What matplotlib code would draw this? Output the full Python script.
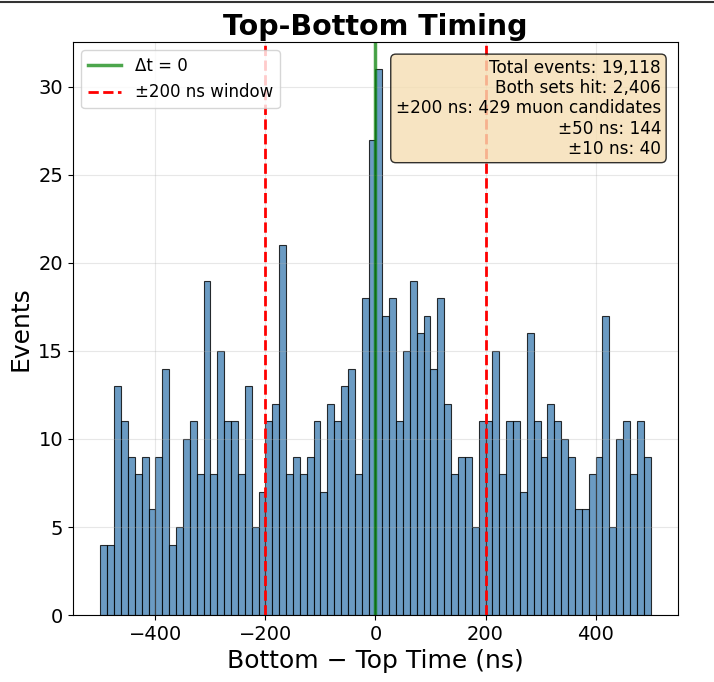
import numpy as np
import matplotlib
matplotlib.use("Agg")
import matplotlib.pyplot as plt
from matplotlib.lines import Line2D

# Histogram of Bottom - Top time differences (ns), 80 bins from -500 to 500
bin_lo = -500
bin_hi = 500
n_bins = 80
counts = [
    4, 4, 13, 11, 9, 8, 9, 6, 9, 14, 4, 5, 10, 11, 8, 19, 8, 15, 11, 11, 8,
    13, 5, 7, 11, 12, 21, 8, 9, 8, 9, 11, 7, 12, 11, 13, 14, 8, 18,
    27, 31,
    17, 18, 11, 15, 19, 16, 17, 14, 18, 12, 8, 9, 9, 5, 11, 11, 15, 8, 11, 11, 7,
    16, 11, 9, 12, 11, 10, 9, 6, 6, 8, 9, 17, 5, 10, 11, 8, 11, 9,
]
window = 200
stats_lines = [
    "Total events: 19,118",
    "Both sets hit: 2,406",
    "±200 ns: 429 muon candidates",
    "±50 ns: 144",
    "±10 ns: 40",
]

edges = np.linspace(bin_lo, bin_hi, n_bins + 1)
width = edges[1] - edges[0]

fig = plt.figure(figsize=(7.14, 6.82), dpi=100)
ax = fig.add_axes([0.1022, 0.0982, 0.8474, 0.8402])

ax.bar(edges[:-1], counts, width=width, align='edge', color='steelblue',
       edgecolor='black', linewidth=0.8, alpha=0.8)
ax.axvline(0, color='green', linewidth=2.5, alpha=0.7, label='Δt = 0')
ax.axvline(-window, color='red', linestyle='--', linewidth=2,
           label=f'±{window} ns window')
ax.axvline(window, color='red', linestyle='--', linewidth=2)

ax.set_xlim(-550, 550)
ax.set_ylim(0, max(counts) * 1.05)
ax.set_xlabel('Bottom − Top Time (ns)', fontsize=18)
ax.set_ylabel('Events', fontsize=18)
ax.set_title('Top-Bottom Timing', fontsize=20.5, fontweight='bold', pad=5)
ax.tick_params(labelsize=14)
ax.grid(True, alpha=0.3)
ax.legend(loc='upper left', fontsize=12)

ax.text(0.972, 0.970, "\n".join(stats_lines), transform=ax.transAxes,
        ha='right', va='top', fontsize=12.2, multialignment='right',
        linespacing=1.15,
        bbox=dict(boxstyle='round', facecolor='wheat', alpha=0.8))

fig.add_artist(Line2D([0, 1], [0.9975, 0.9975], transform=fig.transFigure,
                      color='#333333', linewidth=1.5))

fig.savefig('out.png', dpi=100)
